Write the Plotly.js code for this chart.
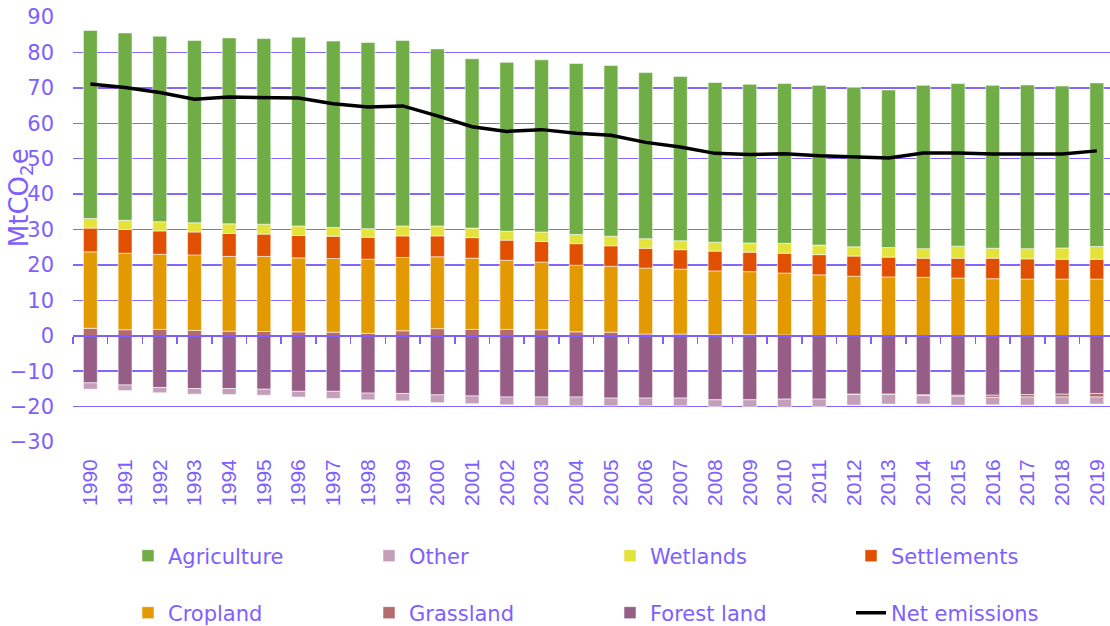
<!DOCTYPE html>
<html>
<head>
<meta charset="utf-8">
<script src="https://cdn.plot.ly/plotly-3.0.1.min.js"></script>
<style>html,body{margin:0;padding:0;background:#fff;}#chart{width:1110px;height:626px;}</style>
</head>
<body>
<div id="chart"></div>
<script>
const years = ['1990','1991','1992','1993','1994','1995','1996','1997','1998','1999',
  '2000','2001','2002','2003','2004','2005','2006','2007','2008','2009',
  '2010','2011','2012','2013','2014','2015','2016','2017','2018','2019'];

const agriculture = [53.1,52.9,52.4,51.5,52.5,52.4,53.3,52.6,52.6,52.4,
  50.0,47.8,47.7,48.6,48.3,48.2,46.9,46.4,45.1,44.8,
  45.1,45.1,45.0,44.5,46.1,45.9,46.0,46.2,45.7,46.2];
const wetlands = [2.7,2.6,2.6,2.6,2.7,2.8,2.7,2.5,2.4,2.8,
  2.8,2.7,2.5,2.7,2.6,2.7,2.7,2.5,2.5,2.6,
  2.8,2.7,2.6,2.7,2.7,3.4,2.8,2.9,3.2,3.6];
const settlements = [6.7,6.7,6.6,6.5,6.5,6.3,6.3,6.3,6.2,6.1,
  5.9,5.8,5.7,5.8,6.1,5.8,5.6,5.5,5.6,5.5,
  5.6,5.7,5.7,5.6,5.4,5.6,5.8,5.7,5.6,5.6];
const cropland = [21.6,21.6,21.2,21.3,21.1,21.2,20.9,20.8,20.9,20.7,
  20.3,20.1,19.5,19.1,18.8,18.6,18.6,18.3,18.0,17.8,
  17.5,17.1,16.8,16.6,16.5,16.3,16.1,16.0,16.0,16.0];
const grassland = [2.1,1.7,1.8,1.5,1.3,1.2,1.1,1.0,0.7,1.4,
  2.0,1.8,1.8,1.7,1.1,1.0,0.5,0.5,0.3,0.3,
  0.2,0.1,-0.1,-0.1,-0.2,-0.3,-0.6,-0.7,-0.8,-1.0];
const forestLand = [-13.3,-13.9,-14.6,-14.9,-14.9,-15.1,-15.7,-15.7,-16.2,-16.3,
  -16.7,-17.0,-17.3,-17.3,-17.3,-17.6,-17.6,-17.6,-18.1,-18.1,
  -17.9,-17.9,-16.5,-16.5,-16.7,-16.8,-16.8,-16.6,-16.5,-16.3];
const other = [-1.8,-1.6,-1.5,-1.6,-1.7,-1.7,-1.6,-2.0,-1.9,-2.1,
  -2.2,-2.2,-2.2,-2.5,-2.5,-2.2,-2.2,-2.2,-1.9,-2.0,
  -2.3,-2.1,-3.0,-2.7,-2.4,-2.5,-2.1,-2.3,-2.1,-2.0];
const netEmissions = [71.1,70.1,68.7,66.8,67.4,67.2,67.1,65.5,64.6,64.9,
  62.1,59.0,57.7,58.2,57.2,56.6,54.6,53.3,51.5,51.2,
  51.4,50.8,50.6,50.2,51.6,51.6,51.3,51.4,51.3,52.2];

const purple = '#7D60FF';
const edge = {color: 'rgba(255,255,255,0.55)', width: 1};

function bar(name, y, color, legend, rank) {
  return {type: 'bar', name: name, x: years, y: y, marker: {color: color, line: edge},
          legend: legend, legendrank: rank, hoverinfo: 'name+y'};
}

const data = [
  bar('Forest land', forestLand, '#965E87', 'legend2', 3),
  bar('Grassland', grassland, '#B36B6E', 'legend2', 2),
  bar('Cropland', cropland, '#E39A00', 'legend2', 1),
  bar('Settlements', settlements, '#E15000', 'legend', 4),
  bar('Wetlands', wetlands, '#E3E33C', 'legend', 3),
  bar('Agriculture', agriculture, '#70AD47', 'legend', 1),
  bar('Other', other, '#C49FBA', 'legend', 2),
  {type: 'scatter', mode: 'lines', name: 'Net emissions', x: years, y: netEmissions,
   xaxis: 'x2', yaxis: 'y', line: {color: '#000', width: 3.5},
   legend: 'legend2', legendrank: 4}
];

const legendCommon = {
  orientation: 'h', xref: 'container', yref: 'container', xanchor: 'left', yanchor: 'middle',
  entrywidth: 196, entrywidthmode: 'pixels', traceorder: 'normal',
  bgcolor: 'rgba(0,0,0,0)', font: {family: 'DejaVu Sans', size: 21, color: purple}
};

const layout = {
  width: 1110, height: 626,
  margin: {l: 73, r: 0, t: 17, b: 184, autoexpand: false},
  paper_bgcolor: '#fff', plot_bgcolor: '#fff',
  barmode: 'relative', bargap: 0.6,
  showlegend: true,
  legend: Object.assign({}, legendCommon, {x: 128/1110, y: 1 - 556/626}),
  legend2: Object.assign({}, legendCommon, {x: 128/1110, y: 1 - 613/626}),
  xaxis: {
    type: 'category', categoryarray: years, range: [-0.5, 29.38],
    showgrid: false, zeroline: false, showline: false, ticks: '',
    tickangle: -90, ticklabelstandoff: 12,
    tickfont: {family: 'Liberation Sans', size: 21, color: purple}
  },
  xaxis2: {
    type: 'category', categoryarray: years, range: [-0.5, 29.38],
    overlaying: 'x', anchor: 'free', position: 0.25,
    showgrid: false, zeroline: false, showline: true, linecolor: purple, linewidth: 2,
    ticks: 'outside', tickson: 'boundaries', ticklen: 7, tickcolor: purple, tickwidth: 1.5,
    showticklabels: false
  },
  yaxis: {
    range: [-30, 90], dtick: 10, tick0: 0,
    showgrid: true, gridcolor: '#8266FF', gridwidth: 1.5,
    zeroline: false, showline: false, ticks: '', ticklabelstandoff: 18,
    tickfont: {family: 'DejaVu Sans', size: 21, color: purple}
  },
  annotations: [{
    text: 'MtCO<sub>2</sub>e', xref: 'paper', yref: 'paper',
    x: (20 - 73) / 1037, y: (442 - 198) / 425.3, xanchor: 'center', yanchor: 'middle',
    textangle: -90, showarrow: false,
    font: {family: 'DejaVu Sans', size: 26, color: purple}
  }]
};

Plotly.newPlot('chart', data, layout, {displayModeBar: false, staticPlot: true});
</script>
</body>
</html>
